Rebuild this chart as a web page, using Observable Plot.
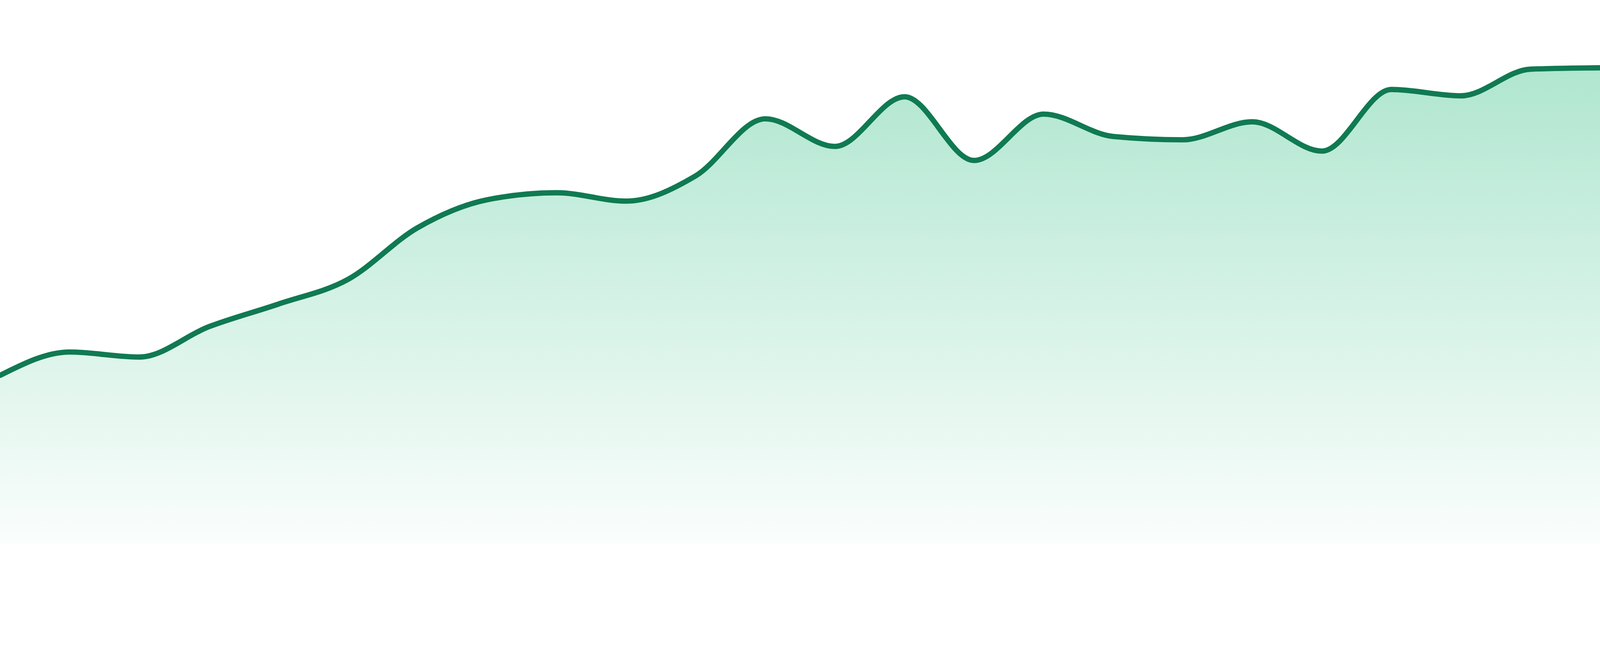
<!DOCTYPE html>
<html>
<head>
<meta charset="utf-8">
<script src="https://cdn.jsdelivr.net/npm/d3@7"></script>
<script src="https://cdn.jsdelivr.net/npm/@observablehq/plot@0.6"></script>
<style>
  html, body { margin: 0; padding: 0; background: #ffffff; }
  #chart svg { display: block; }
</style>
</head>
<body>
<div id="chart"></div>
<script>
// Periods (evenly spaced points along x)
const periods = [0,1,2,3,4,5,6,7,8,9,10,11,12,13,14,15,16,17,18,19,20,21,22,23];
// Series values (arbitrary units)
const values = [506,576,561,652,720,794,949,1033,1054,1029,1105,1276,1193,1342,1151,1290,1223,1213,1267,1179,1364,1345,1425,1429];

const data = periods.map((p, i) => ({period: p, value: values[i]}));

const chart = Plot.plot({
  width: 4800,
  height: 1680,
  marginTop: 0,
  marginRight: 0,
  marginLeft: 0,
  marginBottom: 48,
  style: {background: "#ffffff"},
  x: {domain: [0, 23], axis: null},
  y: {domain: [0, 1632], axis: null},
  marks: [
    Plot.areaY(data, {x: "period", y: "value", curve: "monotone-x", fill: "url(#areaGradient)"}),
    Plot.lineY(data, {x: "period", y: "value", curve: "monotone-x", stroke: "#107a52", strokeWidth: 16, strokeLinejoin: "round"})
  ]
});

const svg = d3.select(chart);
const grad = svg.insert("defs", ":first-child")
  .append("linearGradient")
  .attr("id", "areaGradient")
  .attr("x1", 0).attr("y1", 0).attr("x2", 0).attr("y2", 1);
grad.append("stop").attr("offset", "0%").attr("stop-color", "#1db879").attr("stop-opacity", 0.35);
grad.append("stop").attr("offset", "100%").attr("stop-color", "#1db879").attr("stop-opacity", 0.02);

document.getElementById("chart").appendChild(chart);
</script>
</body>
</html>
